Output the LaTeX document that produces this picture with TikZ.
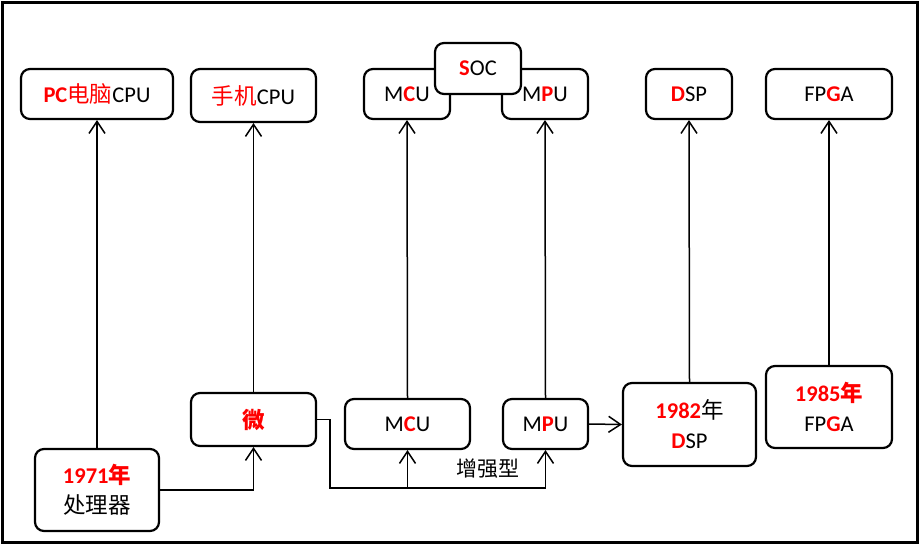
\documentclass[tikz,border=0pt]{standalone}
\usepackage{fontspec}
\setmainfont{Carlito}
\newfontfamily\cjk{Noto Sans CJK SC}
\usetikzlibrary{arrows.meta}
\newcommand{\redb}[1]{\textcolor{red}{\textbf{#1}}}
\tikzset{
  box/.style={draw, line width=2.2pt, rounded corners=9pt, fill=white, align=center, inner sep=0pt},
  arr/.style={line width=1.5pt, -{Straight Barb[length=12pt,width=16pt]}},
}

\begin{document}
\begin{tikzpicture}[x=1pt,y=-1pt,font=\fontsize{22.5}{30}\selectfont]
\useasboundingbox (0,0) rectangle (919,544);
\draw[line width=3pt] (2,2) rectangle (917,542);

\node[box, minimum width=152pt, minimum height=50pt] (pccpu) at (97,94) {\textcolor{red}{\textbf{PC}{\cjk 电脑}}CPU};
\node[box, minimum width=125pt, minimum height=53pt] (phonecpu) at (253.5,95.5) {{\cjk\color{red}手机}CPU};
\node[box, minimum width=86pt, minimum height=50pt] (mcutop) at (407,94) {M\redb{C}U};
\node[box, minimum width=86pt, minimum height=50pt] (mputop) at (545,94) {M\redb{P}U};
\node[box, minimum width=86pt, minimum height=51pt] (soc) at (478,68.5) {\redb{S}OC};
\node[box, minimum width=86pt, minimum height=50pt] (dsptop) at (689,94) {\redb{D}SP};
\node[box, minimum width=126pt, minimum height=50pt] (fpgatop) at (829,94) {FP\redb{G}A};

\node[box, minimum width=124pt, minimum height=82pt] (y1971) at (97,490) {\redb{1971{\cjk 年}}\\{\cjk 处理器}};
\node[box, minimum width=125pt, minimum height=53pt] (wei) at (253.5,419.5) {{\cjk\color{red}\bfseries 微}};
\node[box, minimum width=125pt, minimum height=50pt] (mcubot) at (407.5,424) {M\redb{C}U};
\node[box, minimum width=85pt, minimum height=50pt] (mpubot) at (545.5,424) {M\redb{P}U};
\node[box, minimum width=133pt, minimum height=83pt] (y1982) at (689.5,424.5) {\redb{1982}{\cjk 年}\\\redb{D}SP};
\node[box, minimum width=126pt, minimum height=82pt] (y1985) at (829,407) {\redb{1985{\cjk 年}}\\FP\redb{G}A};

\coordinate (bend) at (330,488);
\node[font=\cjk\fontsize{21}{21}\selectfont] (enh) at (488,469) {增强型};

\draw[arr] (y1971.north) -- (pccpu.south);
\draw[arr] (y1971.east) -| (wei.south);
\draw[arr] (wei.north) -- (phonecpu.south);
\draw[arr] (wei.east) -| (bend) -| (mpubot.south);
\draw[arr] (mcubot.south |- bend) -- (mcubot.south);
\draw[arr] (mcubot.north) -- (mcutop.south);
\draw[arr] (mpubot.north) -- (mputop.south);
\draw[arr] (mpubot.east) -- (y1982.west);
\draw[arr] (y1982.north) -- (dsptop.south);
\draw[arr] (y1985.north) -- (fpgatop.south);
\end{tikzpicture}
\end{document}
